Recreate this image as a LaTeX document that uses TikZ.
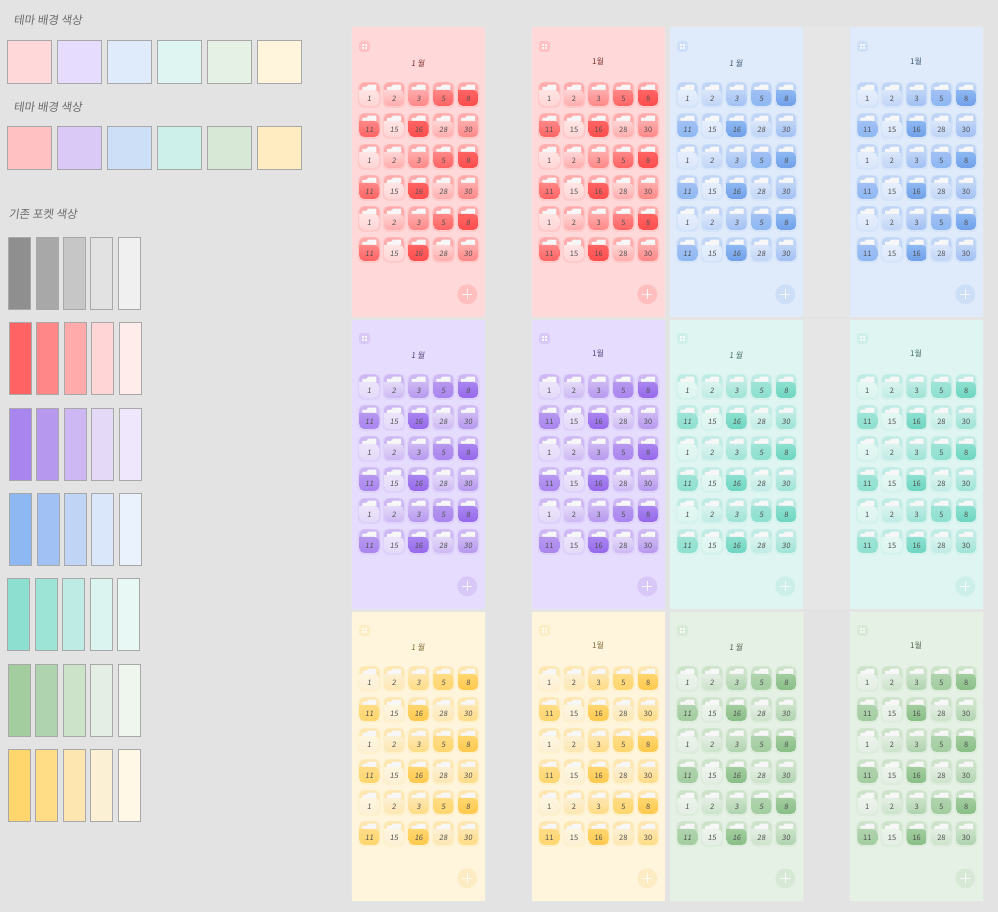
\documentclass[tikz,border=0pt]{standalone}
\usepackage{fontspec}
\usepackage{tikz}
\newfontfamily\kofont{Noto Sans CJK KR}
\newfontfamily\handfont[FakeSlant=0.14]{Noto Sans CJK KR}
\definecolor{page}{HTML}{E3E3E3}
\definecolor{band}{HTML}{E6E6E6}
\definecolor{gray1}{HTML}{8F8F8F}
\definecolor{gray2}{HTML}{A8A8A8}
\definecolor{gray3}{HTML}{C6C6C6}
\definecolor{gray4}{HTML}{E2E2E2}
\definecolor{gray5}{HTML}{F0F0F0}
\definecolor{red0}{HTML}{FF4D4D}
\definecolor{red1}{HTML}{FF6363}
\definecolor{red2}{HTML}{FF8787}
\definecolor{red3}{HTML}{FFABAB}
\definecolor{red4}{HTML}{FFD5D5}
\definecolor{red5}{HTML}{FFECEB}
\definecolor{purple0}{HTML}{9568EA}
\definecolor{purple1}{HTML}{A985F0}
\definecolor{purple2}{HTML}{B698EE}
\definecolor{purple3}{HTML}{CDB8F3}
\definecolor{purple4}{HTML}{E4DAF8}
\definecolor{purple5}{HTML}{EFE8FC}
\definecolor{blue0}{HTML}{70A0EA}
\definecolor{blue1}{HTML}{8DB8F2}
\definecolor{blue2}{HTML}{A1C0F4}
\definecolor{blue3}{HTML}{C0D5F6}
\definecolor{blue4}{HTML}{DAE6FA}
\definecolor{blue5}{HTML}{EAF2FE}
\definecolor{mint0}{HTML}{6DD6C0}
\definecolor{mint1}{HTML}{8DE0CF}
\definecolor{mint2}{HTML}{9EE4D6}
\definecolor{mint3}{HTML}{BEEBE4}
\definecolor{mint4}{HTML}{DCF4EF}
\definecolor{mint5}{HTML}{E8F9F5}
\definecolor{green0}{HTML}{88BE86}
\definecolor{green1}{HTML}{A3CD9F}
\definecolor{green2}{HTML}{AFD3AE}
\definecolor{green3}{HTML}{CCE3CA}
\definecolor{green4}{HTML}{E4EEE4}
\definecolor{green5}{HTML}{EFF6EE}
\definecolor{yellow0}{HTML}{FFC94D}
\definecolor{yellow1}{HTML}{FFD66E}
\definecolor{yellow2}{HTML}{FFDC85}
\definecolor{yellow3}{HTML}{FDE6B0}
\definecolor{yellow4}{HTML}{FCF0D4}
\definecolor{yellow5}{HTML}{FFF8E6}
\definecolor{redbg}{HTML}{FFD9D9}
\definecolor{purplebg}{HTML}{E6DCFD}
\definecolor{bluebg}{HTML}{DFEBFA}
\definecolor{mintbg}{HTML}{DFF5F2}
\definecolor{greenbg}{HTML}{E6F1E6}
\definecolor{yellowbg}{HTML}{FEF5DC}
\definecolor{redbgb}{HTML}{FFC1C1}
\definecolor{purplebgb}{HTML}{DAC9F6}
\definecolor{bluebgb}{HTML}{CDDEF7}
\definecolor{mintbgb}{HTML}{CDF0EA}
\definecolor{greenbgb}{HTML}{D7E8D7}
\definecolor{yellowbgb}{HTML}{FFECC0}

\tikzset{
    swatch/.style={draw=gray2, line width=0.8pt},
    heading/.style={anchor=west, text=black!58, font=\handfont\fontsize{11.5}{13}\selectfont},
    panel/.style={draw=black!10, line width=1pt},
    pockettext/.style={inner sep=0pt, font=\fontsize{7.5}{8}\selectfont}
}

\newcommand{\pocket}[7]{%
    \begin{scope}[shift={(#1, #2)}]
        \fill [#31, opacity=0.12, rounded corners=6pt] (-1.5, -0.5) rectangle (21.5, 25.5);
        \fill [#33, rounded corners=5pt] (0, 0) rectangle (20, 23.5);
        \fill [white!94!gray] (3, 7.5) -- (3, 4.5) -- (7, 4.5) -- (9, 2.3) -- (17, 2.3) -- (17, 7.5) -- cycle;
        \shade [top color=#4, bottom color=#5, rounded corners=5pt] (0, 7.5) -- (0, 23.5) -- (20, 23.5) -- (20, 7.5) [sharp corners] -- cycle;
        \node [pockettext, text=black!68] (label#6) at (10, 16) {#7#6};
    \end{scope}}

\newcommand{\monthpanel}[4]{%
    \begin{scope}[shift={(#1, #2)}]
        \filldraw [fill=#3bg, panel] (0, 0) rectangle (134, 290);
        \fill [#33, opacity=0.5, rounded corners=3pt] (8, 14) rectangle (19, 25);
        \foreach \gx in {0, 1}
            \foreach \gy in {0, 1}
                \fill [white, opacity=0.85] (11.3 + 2.5 * \gx, 17.3 + 2.5 * \gy) rectangle +(1.9, 1.9);
        \node [text=#31!50!black, inner sep=0pt, font=#4\fontsize{8}{9}\selectfont] (title-#1-#2) at (67, \titley) {\titletext};
        \foreach \prow in {0, 2, 4} {
            \foreach \pcol/\plabel/\ptop/\pbot in {0/1/#35!70!#34/#34, 1/2/#34/#33, 2/3/#33/#32, 3/5/#32/#31, 4/8/#31/#30} {
                \pocket{8.3 + 24.7 * \pcol}{55.4 + 31 * \prow}{#3}{\ptop}{\pbot}{\plabel}{#4}
            }
            \foreach \pcol/\plabel/\ptop/\pbot in {0/11/#32/#31, 1/15/#35!70!#34/#34, 2/16/#31/#30, 3/28/#34/#33, 4/30/#33/#32} {
                \pocket{8.3 + 24.7 * \pcol}{55.4 + 31 * \prow + 31}{#3}{\ptop}{\pbot}{\plabel}{#4}
            }
        }
        \fill [#33, opacity=0.55] (116.3, 267.3) circle (10);
        \draw [white, opacity=0.8, line width=0.7pt] (111.3, 267.3) -- (121.3, 267.3);
        \draw [white, opacity=0.8, line width=0.7pt] (116.3, 262.3) -- (116.3, 272.3);
    \end{scope}}

\begin{document}
\begin{tikzpicture}[x=1pt, y=-1pt]
    \fill [page] (0, 0) rectangle (998, 912);
    \path [use as bounding box] (0, 0) rectangle (998, 912);

    \node [heading] (themelight) at (10, 20) {테마 배경 색상};
    \node [heading] (themedeep) at (10, 107) {테마 배경 색상};
    \node [heading] (pocketbase) at (5, 214) {기존 포켓 색상};

    \foreach \sx/\sname in {7/red, 57/purple, 107/blue, 157/mint, 207/green, 257/yellow} {
        \filldraw [swatch, fill=\sname bg] (\sx, 40.5) rectangle +(44, 43);
        \filldraw [swatch, fill=\sname bgb] (\sx, 126.5) rectangle +(44, 43);
    }

    \foreach \sname/\sy/\sa/\sb/\sc/\sd/\se in {gray/237/8/36/63/90/118, red/322/9/36/64/91/119, purple/408/9/36/64/91/119, blue/493/9/37/64/91/119, mint/578/7/35/62/90/117, green/664/8/35/63/90/118, yellow/749/8/35/63/90/118} {
        \filldraw [swatch, fill=\sname 1] (\sa, \sy) rectangle +(22.5, 72.5);
        \filldraw [swatch, fill=\sname 2] (\sb, \sy) rectangle +(22.5, 72.5);
        \filldraw [swatch, fill=\sname 3] (\sc, \sy) rectangle +(22.5, 72.5);
        \filldraw [swatch, fill=\sname 4] (\sd, \sy) rectangle +(22.5, 72.5);
        \filldraw [swatch, fill=\sname 5] (\se, \sy) rectangle +(22.5, 72.5);
    }

    \fill [band] (804, 27) rectangle (849, 317);
    \fill [band] (804, 319) rectangle (849, 609);

    \def\titletext{1 월}
    \def\titley{36}
    \monthpanel{351}{27}{red}{\handfont}
    \monthpanel{351}{319}{purple}{\handfont}
    \monthpanel{351}{611}{yellow}{\handfont}
    \monthpanel{669}{27}{blue}{\handfont}
    \monthpanel{669}{319}{mint}{\handfont}
    \monthpanel{669}{611}{green}{\handfont}

    \def\titletext{1월}
    \def\titley{34.5}
    \monthpanel{531}{27}{red}{\kofont}
    \monthpanel{531}{319}{purple}{\kofont}
    \monthpanel{531}{611}{yellow}{\kofont}
    \monthpanel{849}{27}{blue}{\kofont}
    \monthpanel{849}{319}{mint}{\kofont}
    \monthpanel{849}{611}{green}{\kofont}
\end{tikzpicture}
\end{document}
